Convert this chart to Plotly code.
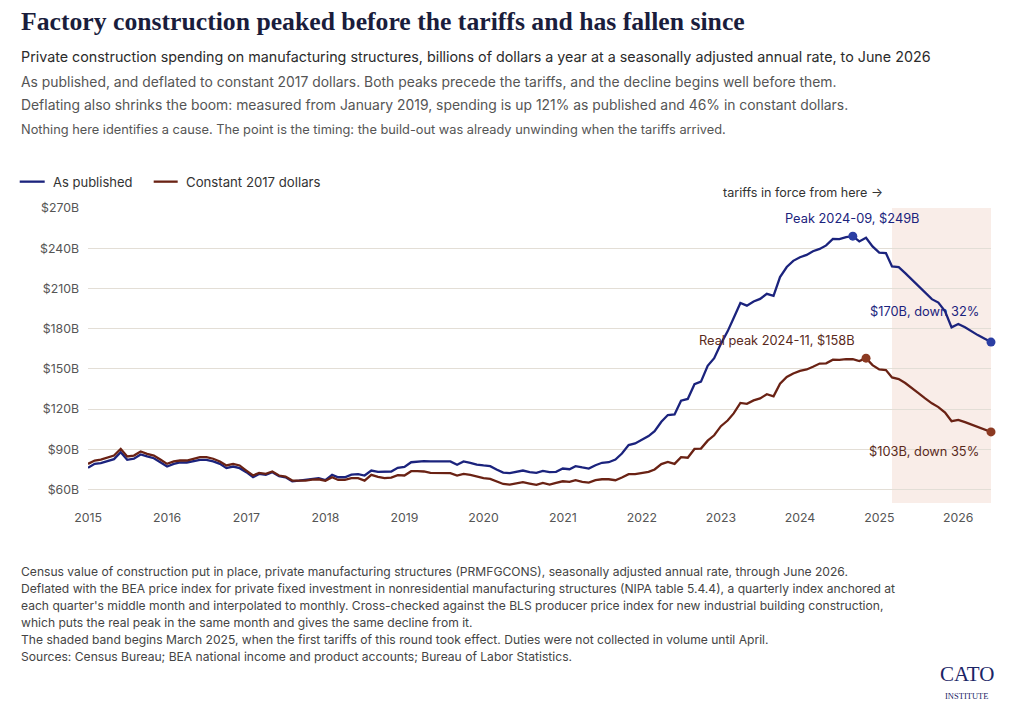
import pandas as pd
import plotly.graph_objects as go

# ---------------- data (billions of dollars, SAAR, monthly Jan 2015 - Jun 2026) ----------------
months = pd.date_range("2015-01-01", periods=138, freq="MS")

as_published = [
    76.2, 79.2, 79.7, 81.2, 82.7, 87.9, 82.2, 83.0, 86.2, 84.7, 83.4, 80.4,   # 2015
    77.2, 79.2, 80.2, 80.2, 81.2, 82.2, 82.2, 81.0, 79.2, 76.0, 77.2, 76.0,   # 2016
    73.0, 69.2, 71.7, 71.0, 73.0, 70.0, 69.2, 66.2, 66.7, 67.2, 68.0, 68.5,   # 2017
    67.0, 71.0, 69.2, 69.2, 71.2, 71.5, 70.5, 74.2, 73.2, 73.2, 73.5, 76.2,   # 2018
    76.9, 80.4, 81.0, 81.2, 81.0, 81.0, 81.0, 81.0, 78.5, 81.0, 80.0, 78.7,   # 2019
    78.0, 77.5, 75.0, 72.7, 72.3, 73.5, 74.2, 73.0, 72.5, 74.0, 73.0, 73.2,   # 2020
    75.7, 75.2, 77.5, 76.5, 75.7, 78.2, 80.0, 80.4, 82.4, 86.9, 93.2, 94.4,   # 2021
    97.4, 99.9, 103.6, 110.6, 115.6, 116.1, 126.3, 127.6, 138.6, 140.5, 152.3, 158.0,   # 2022
    168.7, 178.0, 187.9, 199.2, 197.2, 200.3, 202.2, 206.0, 204.5, 218.5, 226.0, 230.6,  # 2023
    233.3, 235.0, 237.8, 239.5, 242.1, 247.0, 246.8, 248.3, 249.0, 245.1, 247.8, 241.3,  # 2024
    236.8, 236.3, 226.4, 225.9, 221.4, 216.5, 212.0, 207.0, 202.0, 199.5, 193.0, 181.0,  # 2025
    183.5, 181.0, 178.0, 175.2, 172.6, 170.0,                                            # 2026
]

constant_2017 = [
    79.2, 81.7, 82.4, 84.2, 85.4, 90.4, 84.7, 85.4, 88.4, 86.7, 85.4, 82.4,   # 2015
    79.2, 81.0, 81.7, 81.7, 83.0, 84.2, 84.2, 83.0, 81.0, 78.0, 79.2, 78.0,   # 2016
    74.2, 70.5, 72.5, 71.7, 73.5, 70.5, 69.7, 66.7, 66.7, 66.7, 67.5, 67.7,   # 2017
    66.5, 69.2, 67.2, 67.2, 68.5, 68.5, 66.7, 71.0, 69.5, 68.5, 69.0, 70.8,   # 2018
    70.5, 73.7, 73.7, 73.5, 72.5, 72.5, 72.3, 72.3, 70.5, 71.7, 71.0, 69.5,   # 2019
    68.5, 68.0, 66.0, 64.2, 63.7, 64.5, 65.5, 64.5, 63.5, 65.0, 63.7, 65.0,   # 2020
    66.2, 65.7, 67.0, 65.7, 65.2, 67.0, 67.7, 67.7, 67.0, 69.0, 71.5, 71.5,   # 2021
    72.5, 73.2, 75.0, 79.0, 80.6, 79.2, 84.2, 83.8, 90.3, 90.6, 96.5, 100.5,  # 2022
    107.3, 111.5, 116.8, 124.6, 124.0, 126.5, 128.0, 131.1, 129.6, 139.0, 144.0, 146.6,  # 2023
    148.5, 149.6, 151.6, 154.0, 154.2, 156.9, 156.7, 157.3, 157.2, 155.8, 158.0, 152.8,  # 2024
    149.6, 149.1, 143.6, 142.4, 139.5, 136.0, 132.0, 128.0, 124.3, 121.5, 117.5, 111.0,  # 2025
    112.0, 110.3, 108.6, 106.6, 104.7, 103.0,                                            # 2026
]

y_ticks = [60, 90, 120, 150, 180, 210, 240, 270]
y_tick_labels = ["$60B", "$90B", "$120B", "$150B", "$180B", "$210B", "$240B", "$270B"]
x_ticks = pd.date_range("2015-01-01", "2026-01-01", freq="YS")
x_tick_labels = [str(d.year) for d in x_ticks]

tariff_start = "2025-03-01"
peak_pub_date, peak_pub_val = months[116], as_published[116]
peak_real_date, peak_real_val = months[118], constant_2017[118]
last_date = months[-1]
last_pub, last_real = as_published[-1], constant_2017[-1]

# ---------------- styling ----------------
W, H = 1013, 706
L, R, T, B = 88.3, 991.4, 208.3, 502.7
PW, PH = R - L, B - T

def px(x):
    return (x - L) / PW

def py(y):
    return (B - y) / PH

NAVY = "#1b237d"
NAVY_DOT = "#2b3ea3"
BROWN = "#6a2214"
BROWN_DOT = "#8c3a22"
SANS = "Inter, 'Noto Sans', sans-serif"
SERIF = "'Liberation Serif', 'DejaVu Serif', serif"

fig = go.Figure()

fig.add_shape(type="rect", xref="x", yref="paper", x0=tariff_start, x1=last_date,
              y0=0, y1=1, fillcolor="#f9ede8", line_width=0, layer="below")

fig.add_trace(go.Scatter(x=months, y=as_published, mode="lines",
                         line=dict(color=NAVY, width=2.3), name="As published",
                         hoverinfo="skip"))
fig.add_trace(go.Scatter(x=months, y=constant_2017, mode="lines",
                         line=dict(color=BROWN, width=2.3), name="Constant 2017 dollars",
                         hoverinfo="skip"))
fig.add_trace(go.Scatter(x=[peak_pub_date, last_date], y=[peak_pub_val, last_pub],
                         mode="markers", marker=dict(color=NAVY_DOT, size=9),
                         cliponaxis=False, hoverinfo="skip"))
fig.add_trace(go.Scatter(x=[peak_real_date, last_date], y=[peak_real_val, last_real],
                         mode="markers", marker=dict(color=BROWN_DOT, size=9),
                         cliponaxis=False, hoverinfo="skip"))

ann = []

def text(x, y, s, size=13, color="#333333", family=SANS, xanchor="left", yanchor="middle", xref="paper", yref="paper", **kw):
    ann.append(dict(x=x, y=y, xref=xref, yref=yref, text=s, showarrow=False,
                    xanchor=xanchor, yanchor=yanchor,
                    font=dict(size=size, color=color, family=family), **kw))

# header
text(px(19), py(22), "<b>Factory construction peaked before the tariffs and has fallen since</b>",
     size=25.7, color="#1a1d3c", family=SERIF)
text(px(19), py(58), "Private construction spending on manufacturing structures, billions of dollars a year at a seasonally adjusted annual rate, to June 2026",
     size=14.3, color="#2b2b2b")
text(px(19), py(83), "As published, and deflated to constant 2017 dollars. Both peaks precede the tariffs, and the decline begins well before them.",
     size=13.9, color="#555555")
text(px(19), py(106), "Deflating also shrinks the boom: measured from January 2019, spending is up 121% as published and 46% in constant dollars.",
     size=13.9, color="#555555")
text(px(19), py(130), "Nothing here identifies a cause. The point is the timing: the build-out was already unwinding when the tariffs arrived.",
     size=12.8, color="#555555")

# legend (drawn)
fig.add_shape(type="line", xref="paper", yref="paper", x0=px(20), x1=px(45), y0=py(182), y1=py(182),
              line=dict(color=NAVY, width=2.3))
text(px(51), py(182), "As published", size=13, color="#333333")
fig.add_shape(type="line", xref="paper", yref="paper", x0=px(154), x1=px(178), y0=py(182), y1=py(182),
              line=dict(color=BROWN, width=2.3))
text(px(184), py(182), "Constant 2017 dollars", size=13.2, color="#333333")

# chart annotations
text(px(885), py(193), "tariffs in force from here →", size=12.6, color="#333333", xanchor="right")
text(peak_pub_date, py(219), f"Peak 2024-09, ${peak_pub_val:.0f}B", size=12.8, color=NAVY,
     xanchor="center", xref="x")
text(px(857), py(341), f"Real peak 2024-11, ${peak_real_val:.0f}B", size=12.8, color="#5a2a1c",
     xanchor="right")
text(px(981), py(312), f"${last_pub:.0f}B, down {round((1 - last_pub / peak_pub_val) * 100)}%",
     size=12.8, color=NAVY, xanchor="right")
text(px(981), py(451), f"${last_real:.0f}B, down {round((1 - last_real / peak_real_val) * 100)}%",
     size=12.8, color="#5a2a1c", xanchor="right")

# footnotes
notes = [
    "Census value of construction put in place, private manufacturing structures (PRMFGCONS), seasonally adjusted annual rate, through June 2026.",
    "Deflated with the BEA price index for private fixed investment in nonresidential manufacturing structures (NIPA table 5.4.4), a quarterly index anchored at",
    "each quarter's middle month and interpolated to monthly. Cross-checked against the BLS producer price index for new industrial building construction,",
    "which puts the real peak in the same month and gives the same decline from it.",
    "The shaded band begins March 2025, when the first tariffs of this round took effect. Duties were not collected in volume until April.",
    "Sources: Census Bureau; BEA national income and product accounts; Bureau of Labor Statistics.",
]
for k, s in enumerate(notes):
    text(px(19), py(571 + k * 17.0), s, size=12.1, color="#444444")

# logo
text(px(967), py(673), "CATO", size=21, color="#1b2566", family=SERIF, xanchor="center")
text(px(967), py(695), "INSTITUTE", size=8.5, color="#1b2566", family=SERIF, xanchor="center")

fig.update_layout(
    width=W, height=H,
    margin=dict(l=L, r=W - R, t=T, b=H - B, pad=0),
    paper_bgcolor="white", plot_bgcolor="white",
    showlegend=False,
    annotations=ann,
    font=dict(family=SANS, color="#555555"),
)
fig.update_xaxes(range=[months[0], last_date], tickvals=list(x_ticks), ticktext=x_tick_labels,
                 showgrid=False, zeroline=False, showline=False, ticks="",
                 tickfont=dict(size=12.3, color="#555555"), ticklabelstandoff=6)
fig.update_yaxes(range=[50, 270], tickvals=y_ticks, ticktext=y_tick_labels,
                 showgrid=True, gridcolor="#e3ded6", gridwidth=1, zeroline=False,
                 showline=False, ticks="", tickfont=dict(size=12.3, color="#555555"),
                 ticklabelstandoff=8)

fig.write_html("out.html", config={"displayModeBar": False},
               post_script="document.body.style.margin='0px';")
